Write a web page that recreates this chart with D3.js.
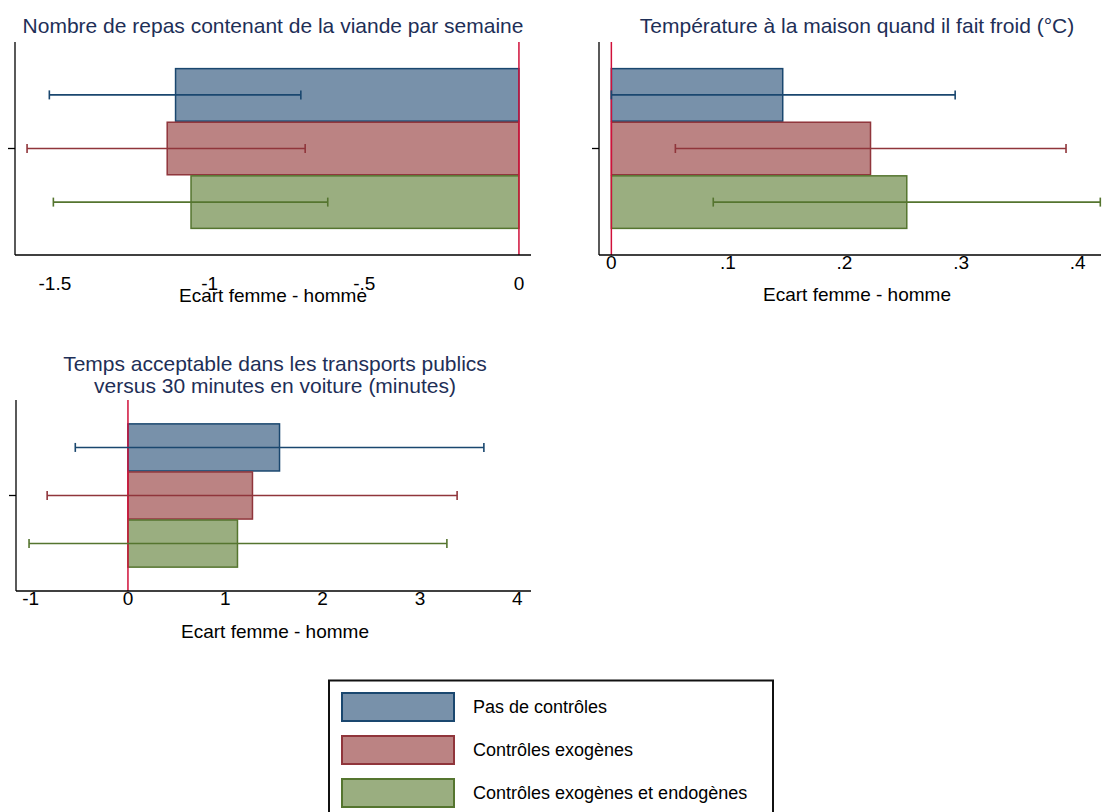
<!DOCTYPE html>
<html><head><meta charset="utf-8">
<script src="https://cdn.jsdelivr.net/npm/d3@7"></script>
<style>body{margin:0;background:#fff;}svg{display:block;font-family:"Liberation Sans",Arial,sans-serif;}</style>
</head><body>
<svg id="chart" width="1102" height="812"></svg>
<script>
const seriesNames = ["Pas de contrôles", "Contrôles exogènes", "Contrôles exogènes et endogènes"];
const fills = ["#7891aa", "#bb8383", "#9aae80"];
const strokes = ["#1a476f", "#90353b", "#55752f"];

const meatEst = [-1.110, -1.137, -1.060];
const meatLo  = [-1.518, -1.590, -1.505];
const meatHi  = [-0.705, -0.691, -0.618];
const meatTicks = [-1.5, -1, -0.5, 0];
const meatTickLabels = ["-1.5", "-1", "-.5", "0"];

const tempEst = [0.147, 0.2223, 0.2534];
const tempLo  = [0.0, 0.0549, 0.0874];
const tempHi  = [0.2949, 0.390, 0.4194];
const tempTicks = [0, 0.1, 0.2, 0.3, 0.4];
const tempTickLabels = ["0", ".1", ".2", ".3", ".4"];

const transEst = [1.557, 1.279, 1.125];
const transLo  = [-0.541, -0.830, -1.016];
const transHi  = [3.656, 3.381, 3.276];
const transTicks = [-1, 0, 1, 2, 3, 4];
const transTickLabels = ["-1", "0", "1", "2", "3", "4"];

const panels = [
  {title:["Nombre de repas contenant de la viande par semaine"], est:meatEst, lo:meatLo, hi:meatHi,
   ticks:meatTicks, labels:meatTickLabels, domain:[-1.629, 0.039],
   box:{l:15, r:531, t:42, b:255}, titleY:[33], tickY:290, axTitleY:302, cx:273},
  {title:["Température à la maison quand il fait froid (°C)"], est:tempEst, lo:tempLo, hi:tempHi,
   ticks:tempTicks, labels:tempTickLabels, domain:[-0.0106, 0.42],
   box:{l:599, r:1101, t:42, b:255}, titleY:[33], tickY:269, axTitleY:301, cx:857},
  {title:["Temps acceptable dans les transports publics","versus 30 minutes en voiture (minutes)"], est:transEst, lo:transLo, hi:transHi,
   ticks:transTicks, labels:transTickLabels, domain:[-1.15, 4.14],
   box:{l:16, r:531, t:400, b:591}, titleY:[371, 393], tickY:605, axTitleY:638, cx:275}
];

const svg = d3.select("#chart");
const titleColor = "#1e2f57";
const zeroColor = "#d0103a";

panels.forEach(p => {
  const g = svg.append("g");
  const b = p.box;
  const x = d3.scaleLinear().domain(p.domain).range([b.l, b.r]);
  const h = b.b - b.t;
  const y = d3.scaleBand().domain([0,1,2]).range([b.t + 0.125*h, b.t + 0.875*h]).paddingInner(0.02);

  p.title.forEach((t,i) => {
    g.append("text").attr("x", p.cx).attr("y", p.titleY[i]).attr("text-anchor","middle")
      .attr("font-size", 21).attr("fill", titleColor).text(t);
  });

  g.selectAll("rect.bar").data(p.est).join("rect").attr("class","bar")
    .attr("x", d => Math.min(x(0), x(d)))
    .attr("width", d => Math.abs(x(d) - x(0)))
    .attr("y", (d,i) => y(i))
    .attr("height", y.bandwidth())
    .attr("fill", (d,i) => fills[i]).attr("stroke", (d,i) => strokes[i]).attr("stroke-width", 1.5);

  g.append("line").attr("x1", x(0)).attr("x2", x(0)).attr("y1", b.t).attr("y2", b.b)
    .attr("stroke", zeroColor).attr("stroke-width", 1.5);

  const cap = 4.5;
  p.est.forEach((d,i) => {
    const cy = y(i) + y.bandwidth()/2;
    const eg = g.append("g").attr("stroke", strokes[i]).attr("stroke-width", 1.6);
    eg.append("line").attr("x1", x(p.lo[i])).attr("x2", x(p.hi[i])).attr("y1", cy).attr("y2", cy);
    eg.append("line").attr("x1", x(p.lo[i])).attr("x2", x(p.lo[i])).attr("y1", cy-cap).attr("y2", cy+cap);
    eg.append("line").attr("x1", x(p.hi[i])).attr("x2", x(p.hi[i])).attr("y1", cy-cap).attr("y2", cy+cap);
  });

  g.append("line").attr("x1", b.l).attr("x2", b.l).attr("y1", b.t).attr("y2", b.b).attr("stroke","#000").attr("stroke-width",1.3);
  g.append("line").attr("x1", b.l).attr("x2", b.r).attr("y1", b.b).attr("y2", b.b).attr("stroke","#000").attr("stroke-width",1.3);
  g.append("line").attr("x1", b.l-7).attr("x2", b.l).attr("y1", (b.t+b.b)/2).attr("y2", (b.t+b.b)/2).attr("stroke","#000").attr("stroke-width",1.3);

  g.selectAll("text.tick").data(p.ticks).join("text").attr("class","tick")
    .attr("x", d => x(d)).attr("y", p.tickY).attr("text-anchor","middle")
    .attr("font-size", 19).attr("fill","#000").text((d,i) => p.labels[i]);

  g.append("text").attr("x", p.cx).attr("y", p.axTitleY).attr("text-anchor","middle")
    .attr("font-size", 19).attr("fill","#000").text("Ecart femme - homme");
});

const lg = svg.append("g");
lg.append("rect").attr("x", 329).attr("y", 680.5).attr("width", 444).attr("height", 140)
  .attr("fill","#fff").attr("stroke","#111").attr("stroke-width",2);
seriesNames.forEach((n,i) => {
  const yy = 693 + i*43;
  lg.append("rect").attr("x", 342).attr("y", yy).attr("width", 112).attr("height", 28)
    .attr("fill", fills[i]).attr("stroke", strokes[i]).attr("stroke-width", 2);
  lg.append("text").attr("x", 473).attr("y", yy + 20).attr("font-size", 18).attr("fill","#000").text(n);
});
</script>
</body></html>
